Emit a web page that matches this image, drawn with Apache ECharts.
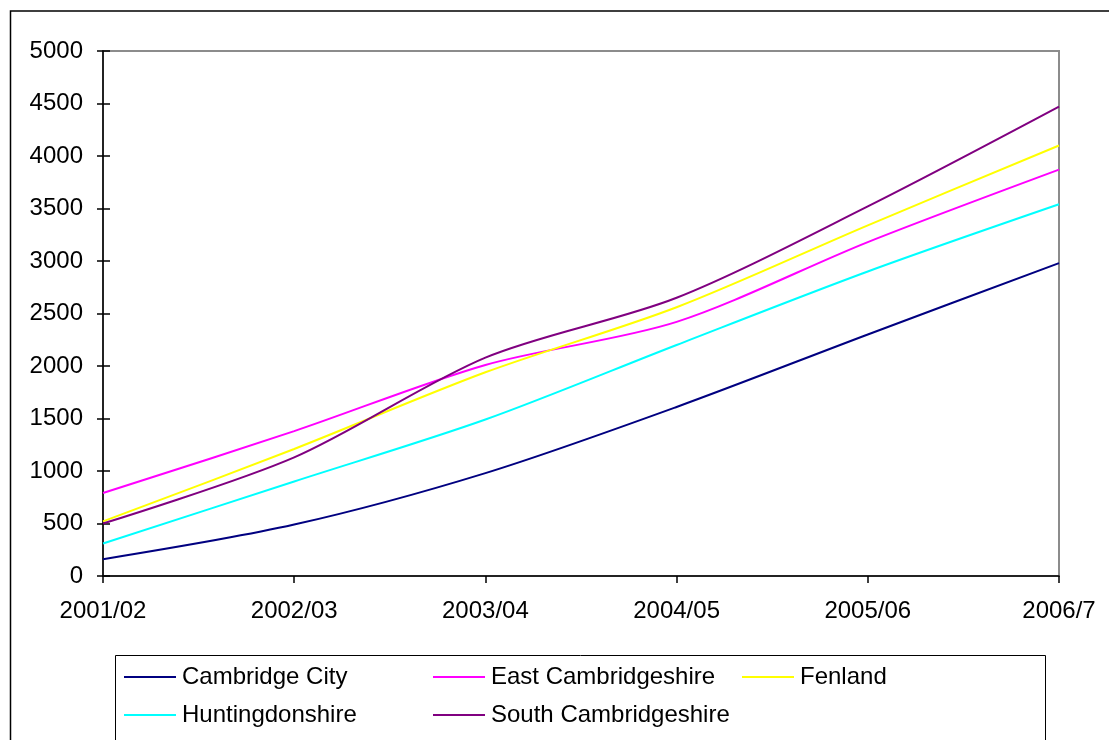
<!DOCTYPE html>
<html>
<head>
<meta charset="utf-8">
<title>Cambridgeshire districts 2001/02 – 2006/7</title>
<script src="https://cdn.jsdelivr.net/npm/echarts@6/dist/echarts.min.js"></script>
<style>
  html, body { margin: 0; padding: 0; background: #fff; }
  #chart { width: 1109px; height: 740px; }
</style>
</head>
<body>
<div id="chart"></div>
<script>
// Financial years on the category axis
const years = ['2001/02', '2002/03', '2003/04', '2004/05', '2005/06', '2006/7'];

// Cumulative totals per district
const cambridgeCity        = [160, 490, 980, 1610, 2300, 2980];
const eastCambridgeshire   = [790, 1380, 2010, 2420, 3180, 3870];
const fenland              = [520, 1210, 1940, 2560, 3340, 4100];
const huntingdonshire      = [310, 900, 1490, 2200, 2900, 3540];
const southCambridgeshire  = [500, 1130, 2080, 2650, 3520, 4470];

// Value axis range
const yMin = 0;
const yMax = 5000;
const yStep = 500;

const FONT = "'Liberation Sans', Arial, sans-serif";
const FONT_SIZE = 24;

const seriesDefs = [
  { name: 'Cambridge City',       data: cambridgeCity,       color: '#000080' },
  { name: 'East Cambridgeshire',  data: eastCambridgeshire,  color: '#FF00FF' },
  { name: 'Fenland',              data: fenland,             color: '#FFFF00' },
  { name: 'Huntingdonshire',      data: huntingdonshire,     color: '#00FFFF' },
  { name: 'South Cambridgeshire', data: southCambridgeshire, color: '#800080' }
];

const legendBase = {
  orient: 'vertical',
  icon: 'rect',
  itemWidth: 52,
  itemHeight: 2,
  itemGap: 14,
  padding: 0,
  selectedMode: false,
  textStyle: { fontFamily: FONT, fontSize: FONT_SIZE, color: '#000', padding: [0, 0, 0, 1] }
};

const chart = echarts.init(document.getElementById('chart'), null, { renderer: 'canvas' });

chart.setOption({
  animation: false,
  backgroundColor: '#fff',
  textStyle: { fontFamily: FONT },
  graphic: [
    // chart frame
    { type: 'rect', shape: { x: 10.5, y: 11, width: 1200, height: 800 },
      style: { fill: null, stroke: '#000', lineWidth: 1.5 }, silent: true, z: 0 },
    // legend frame
    { type: 'rect', shape: { x: 115.5, y: 655.5, width: 930, height: 100 },
      style: { fill: '#fff', stroke: '#000', lineWidth: 1 }, silent: true, z: 0 }
  ],
  grid: {
    left: 103, top: 51, right: 50, bottom: 164,
    show: true, borderColor: '#8c8c8c', borderWidth: 2, backgroundColor: '#fff',
    containLabel: false
  },
  legend: [
    Object.assign({}, legendBase, { left: 124, top: 665, data: ['Cambridge City', 'Huntingdonshire'] }),
    Object.assign({}, legendBase, { left: 433, top: 665, data: ['East Cambridgeshire', 'South Cambridgeshire'] }),
    Object.assign({}, legendBase, { left: 742, top: 665, data: ['Fenland'] })
  ],
  xAxis: {
    type: 'category',
    data: years,
    boundaryGap: false,
    axisLine: { lineStyle: { color: '#000', width: 1.5 } },
    axisTick: { show: true, inside: false, length: 7, alignWithLabel: true, lineStyle: { color: '#000', width: 1.5 } },
    axisLabel: { margin: 23, fontSize: FONT_SIZE, color: '#000', fontFamily: FONT, showMinLabel: true, showMaxLabel: true },
    splitLine: { show: false }
  },
  yAxis: [
    {
      type: 'value',
      min: yMin, max: yMax, interval: yStep,
      axisLine: { show: true, lineStyle: { color: '#000', width: 1.5 } },
      axisTick: { show: true, inside: false, length: 6, lineStyle: { color: '#000', width: 1.5 } },
      axisLabel: { margin: 20, fontSize: FONT_SIZE, color: '#000', fontFamily: FONT, formatter: v => String(v) },
      splitLine: { show: false }
    },
    {
      // inner half of the crossing tick marks
      type: 'value',
      min: yMin, max: yMax, interval: yStep,
      position: 'left',
      axisLine: { show: false },
      axisTick: { show: true, inside: true, length: 7, lineStyle: { color: '#000', width: 1.5 } },
      axisLabel: { show: false },
      splitLine: { show: false }
    }
  ],
  series: seriesDefs.map(s => ({
    name: s.name,
    type: 'line',
    data: s.data,
    smooth: 0.3,
    showSymbol: false,
    symbol: 'none',
    color: s.color,
    lineStyle: { color: s.color, width: 2 },
    emphasis: { disabled: true }
  }))
});
</script>
</body>
</html>
